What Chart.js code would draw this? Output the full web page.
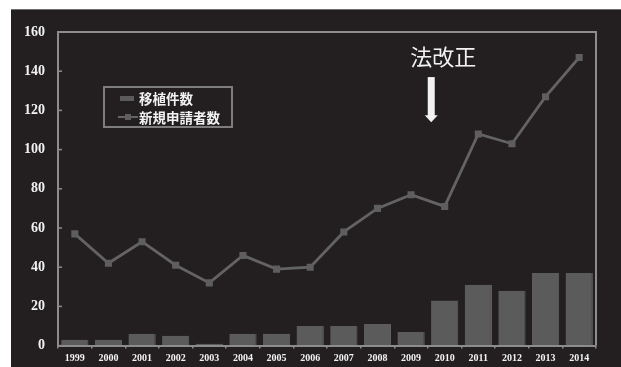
<!DOCTYPE html>
<html>
<head>
<meta charset="utf-8">
<script src="https://cdn.jsdelivr.net/npm/chart.js@4.4.1/dist/chart.umd.min.js"></script>
<style>
  html, body { margin: 0; padding: 0; background: #ffffff; width: 621px; height: 367px; overflow: hidden; }
  #panel { position: absolute; left: 11px; top: 9px; width: 610px; height: 358px; background: #231f20; border-top: 1px solid #6e6e6e; box-sizing: border-box; }
  #chart { position: absolute; left: 11px; top: 9px; }
  #legend {
    position: absolute; left: 103px; top: 86px; width: 130px; height: 42px;
    border: 2px solid #7d7d7d; box-sizing: border-box;
    font-family: "Noto Sans CJK JP", sans-serif; font-weight: bold; font-size: 13.5px; color: #f2f2f2;
  }
  .item { position: absolute; left: 13px; height: 18px; line-height: 18px; white-space: nowrap; }
  .swatch { display: inline-block; position: relative; width: 20px; height: 18px; vertical-align: top; margin-right: 1px; }
</style>
</head>
<body>
<div id="panel"></div>
<canvas id="chart" width="610" height="358"></canvas>
<div id="legend"></div>
<script>
const years = ['1999', '2000', '2001', '2002', '2003', '2004', '2005', '2006',
               '2007', '2008', '2009', '2010', '2011', '2012', '2013', '2014'];
const transplants = [3, 3, 6, 5, 1, 6, 6, 10, 10, 11, 7, 23, 31, 28, 37, 37];
const newApplicants = [57, 42, 53, 41, 32, 46, 39, 40, 58, 70, 77, 71, 108, 103, 127, 147];
const yTicks = [0, 20, 40, 60, 80, 100, 120, 140, 160];

const seriesNames = ['移植件数', '新規申請者数'];
const noteText = '法改正';

const axisColor = '#8c8c8c';
const textColor = '#f2f2f2';
const barColor = '#5b5b5b';
const lineColor = '#636363';

// gray frame on top/right plus short inward ticks on the y axis
const frameAndTicks = {
  id: 'frameAndTicks',
  afterDatasetsDraw(chart) {
    const { ctx, chartArea: a, scales: { y } } = chart;
    ctx.save();
    ctx.strokeStyle = axisColor;
    ctx.lineWidth = 2;
    ctx.beginPath();
    ctx.moveTo(a.left, a.top);
    ctx.lineTo(a.right, a.top);
    ctx.lineTo(a.right, a.bottom);
    ctx.stroke();
    ctx.lineWidth = 1.5;
    yTicks.forEach(v => {
      const py = y.getPixelForValue(v);
      ctx.beginPath();
      ctx.moveTo(a.left, py);
      ctx.lineTo(a.left + 4, py);
      ctx.stroke();
    });
    ctx.restore();
  }
};

// "law revision" note with a downward arrow, placed between 2009 and 2010
const revisionNote = {
  id: 'revisionNote',
  afterDraw(chart) {
    const { ctx, scales: { x, y } } = chart;
    const x0 = x.getPixelForValue(10);
    const x1 = x.getPixelForValue(11);
    const cx = x0 + (x1 - x0) * 0.6;
    ctx.save();
    ctx.fillStyle = textColor;
    ctx.font = '22px "Noto Sans CJK JP", sans-serif';
    ctx.textAlign = 'center';
    ctx.textBaseline = 'middle';
    ctx.fillText(noteText, cx + 12, y.getPixelForValue(147.5));
    const top = y.getPixelForValue(137);
    const tip = y.getPixelForValue(114);
    ctx.fillRect(cx - 3.5, top, 7, tip - top - 6);
    ctx.beginPath();
    ctx.moveTo(cx - 6.5, tip - 7);
    ctx.lineTo(cx + 6.5, tip - 7);
    ctx.lineTo(cx, tip);
    ctx.closePath();
    ctx.fill();
    ctx.restore();
  }
};

const chart = new Chart(document.getElementById('chart'), {
  type: 'bar',
  data: {
    labels: years,
    datasets: [
      {
        type: 'line',
        label: seriesNames[1],
        data: newApplicants,
        borderColor: lineColor,
        borderWidth: 2.8,
        pointStyle: 'rect',
        pointRadius: 5,
        pointBackgroundColor: '#5e5e5e',
        pointBorderWidth: 0,
        tension: 0,
        order: 0
      },
      {
        label: seriesNames[0],
        data: transplants,
        backgroundColor: barColor,
        borderColor: '#666666',
        borderWidth: { right: 1 },
        barPercentage: 0.81,
        categoryPercentage: 1,
        order: 1
      }
    ]
  },
  options: {
    responsive: false,
    animation: false,
    layout: { padding: { top: 23, right: 25, left: 0, bottom: 0 } },
    plugins: {
      legend: { display: false },
      tooltip: { enabled: false }
    },
    scales: {
      x: {
        offset: true,
        grid: { display: true, drawOnChartArea: false, drawTicks: true, tickLength: 3, color: axisColor, lineWidth: 1.5 },
        border: { color: axisColor, width: 2 },
        ticks: {
          color: textColor,
          font: { family: '"Liberation Serif", serif', weight: 'bold', size: 10 },
          padding: 4,
          maxRotation: 0,
          autoSkip: false
        },
        afterFit(scale) { scale.height = 19; }
      },
      y: {
        min: 0,
        max: 160,
        grid: { display: true, drawOnChartArea: false, drawTicks: false },
        border: { color: axisColor, width: 2 },
        ticks: {
          stepSize: 20,
          color: textColor,
          font: { family: '"Liberation Serif", serif', weight: 'bold', size: 14 },
          padding: 13
        },
        afterFit(scale) { scale.width = 47; }
      }
    }
  },
  plugins: [frameAndTicks, revisionNote]
});

// legend box built from the dataset styles
const legend = document.getElementById('legend');
[chart.data.datasets[1], chart.data.datasets[0]].forEach((ds, i) => {
  const item = document.createElement('div');
  item.className = 'item';
  item.style.top = (i === 0 ? 1 : 20) + 'px';
  const sw = document.createElement('span');
  sw.className = 'swatch';
  if (ds.type === 'line') {
    sw.innerHTML = '<span style="position:absolute;left:0;top:8px;width:20px;height:2px;background:' + ds.borderColor + '"></span>' +
                   '<span style="position:absolute;left:7px;top:6px;width:6px;height:6px;background:' + ds.pointBackgroundColor + '"></span>';
  } else {
    sw.innerHTML = '<span style="position:absolute;left:2px;top:7px;width:14px;height:5px;background:' + ds.backgroundColor + '"></span>';
  }
  item.appendChild(sw);
  item.appendChild(document.createTextNode(ds.label));
  legend.appendChild(item);
});
</script>
</body>
</html>
